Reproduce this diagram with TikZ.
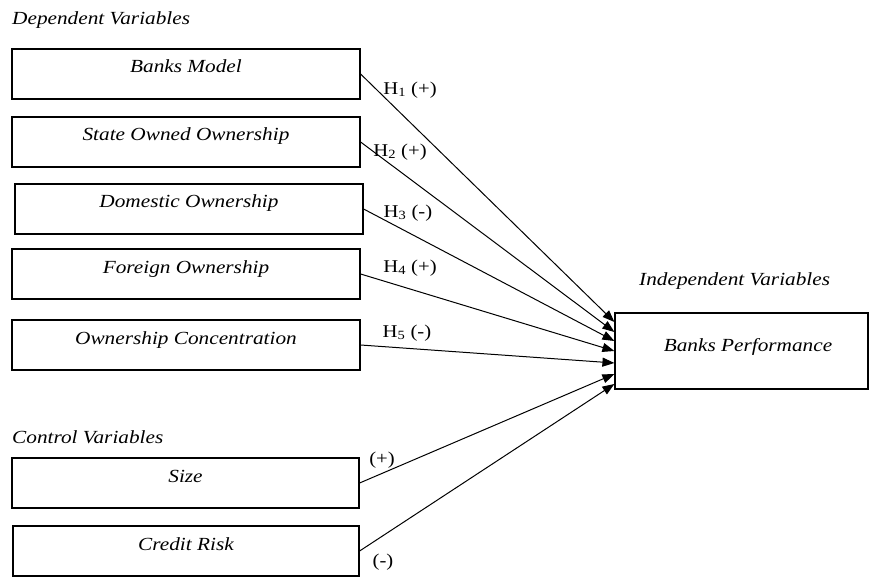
\documentclass[tikz,border=0pt]{standalone}
\usepackage{fontspec}
\setmainfont{Liberation Serif}[FakeStretch=1.15] % Times-like, a little wide
\usepackage{tikz}
\usetikzlibrary{arrows.meta}

\begin{document}
\begin{tikzpicture}[x=1pt, y=-1pt, % 1px = 1pt, y goes down
  box/.style={draw, rectangle, line width=1.2pt, inner sep=0pt, minimum width=348pt, minimum height=50pt,
    text height=12pt, text depth=14pt, font=\fontsize{18.5}{20}\selectfont\itshape},
  head/.style={anchor=base west, inner sep=0pt, font=\fontsize{18.5}{20}\selectfont\itshape},
  hyp/.style={inner sep=0pt, font=\fontsize{18}{20}\selectfont},
  arr/.style={-{Triangle[length=12pt,width=9pt]}, line width=1pt}]
  \useasboundingbox (0,0) rectangle (869,577); % frame

  \node[head] (dv) at (12,25) {Dependent Variables}; % titles
  \node[head] (cv) at (12,443) {Control Variables};
  \node[head] (iv) at (639,285) {Independent Variables};

  \node[box] (bm) at (186,74) {Banks Model}; % left column
  \node[box] (so) at (186,142) {State Owned Ownership};
  \node[box] (dom) at (189,209) {Domestic Ownership};
  \node[box] (fo) at (186,274) {Foreign Ownership};
  \node[box] (oc) at (186,345) {Ownership Concentration};
  \node[box, minimum width=347pt] (sz) at (185.5,483) {Size};
  \node[box, minimum width=346pt] (cr) at (186,551) {Credit Risk};

  \node[box, minimum width=253pt, minimum height=76pt, text depth=12pt] (bp) at (741.5,351) {\hspace*{13pt}Banks Performance}; % right box

  \foreach \n/\y in {1/322, 2/332, 3/341, 4/351, 5/363, 6/374, 7/384}
    \coordinate (in\n) at (bp.west |- 0,\y); % arrow ends

  \draw[arr] (bm.east) -- (in1);
  \draw[arr] (so.east) -- (in2);
  \draw[arr] (dom.east) -- (in3);
  \draw[arr] (fo.east) -- (in4);
  \draw[arr] (oc.east) -- (in5);
  \draw[arr] (sz.east) -- (in6);
  \draw[arr] (cr.east) -- (in7);

  \node[hyp] (h1) at (410,90) {H\textsubscript{1} (+)}; % hypotheses
  \node[hyp] (h2) at (400,152) {H\textsubscript{2} (+)};
  \node[hyp] (h3) at (408,213) {H\textsubscript{3} (-)};
  \node[hyp] (h4) at (410,268) {H\textsubscript{4} (+)};
  \node[hyp] (h5) at (407,333) {H\textsubscript{5} (-)};
  \node[hyp] (c1) at (382,460) {(+)};
  \node[hyp] (c2) at (383,562) {(-)};
\end{tikzpicture}
\end{document}
